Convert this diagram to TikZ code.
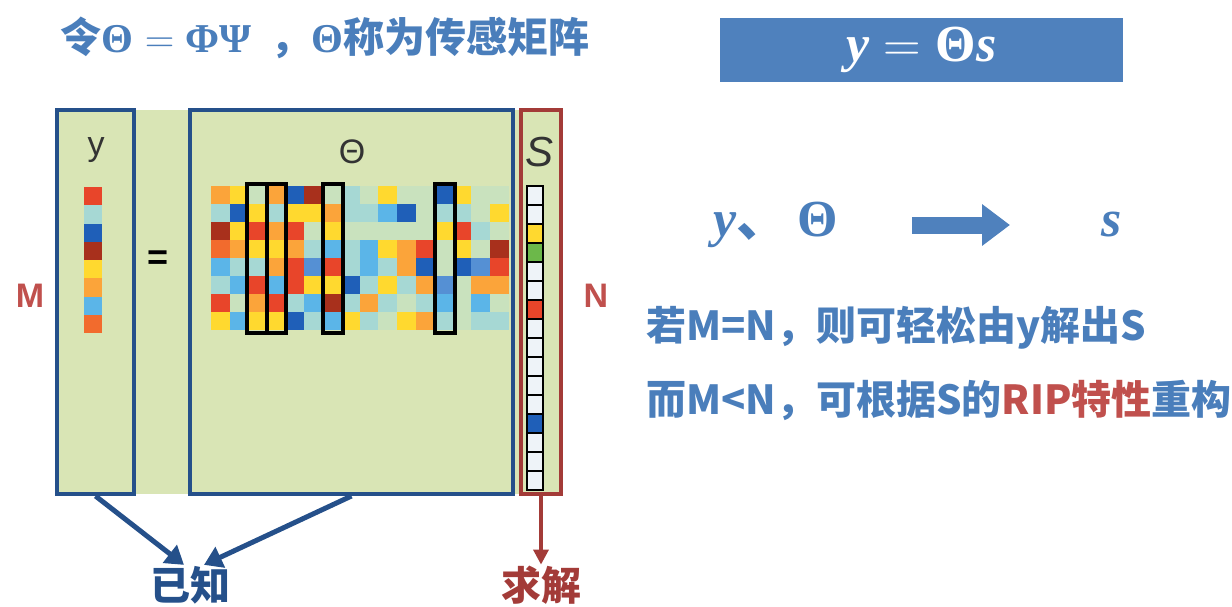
\RequirePackage{fix-cm}
\documentclass[tikz,border=0pt]{standalone}
\usepackage{amsmath,amsbsy}
\usepackage[no-math]{fontspec}
\setmainfont{Liberation Sans}
\newfontfamily\cjk{Noto Sans CJK SC}
\newfontfamily\serif{Liberation Serif}
\usetikzlibrary{arrows.meta, positioning}
\definecolor{txtblue}{HTML}{4A7EBB}
\definecolor{boxblue}{HTML}{4F81BD}
\definecolor{dkblue}{HTML}{25508A}
\definecolor{dkred}{HTML}{A33B38}
\definecolor{lblred}{HTML}{C0504D}
\definecolor{panel}{HTML}{D9E5B5}
% cell colours
\definecolor{cO}{HTML}{FBA43A}
\definecolor{cY}{HTML}{FFD92F}
\definecolor{cR}{HTML}{E8452A}
\definecolor{cF}{HTML}{F26B2D}
\definecolor{cD}{HTML}{A8301C}
\definecolor{cB}{HTML}{1F5FB8}
\definecolor{cM}{HTML}{5590D4}
\definecolor{cL}{HTML}{5BB5E8}
\definecolor{cT}{HTML}{A6D8D4}
\definecolor{cP}{HTML}{C9E2BE}
\definecolor{cW}{HTML}{EEF3F8}
\definecolor{cG}{HTML}{6CB84A}
\newcommand{\bv}[1]{{\serif\bfseries\itshape #1}}
\newcommand{\bg}[1]{{\serif\bfseries #1}}
\tikzset{
  vecbox/.style={rectangle, draw=#1, line width=4pt, inner sep=0pt},
  vecbox/.default=dkblue,
  colbox/.style={draw=black, line width=4pt},
  lbl/.style={inner sep=1pt, text=black!80, font=\fontsize{34}{40}\selectfont},
  dimlbl/.style={inner sep=1pt, text=lblred, font=\bfseries\fontsize{34}{40}\selectfont},
  cjktxt/.style={inner sep=1pt, text=#1, font=\cjk\bfseries\fontsize{40}{46}\selectfont},
  cjktxt/.default=txtblue,
  karr/.style={draw=#1, line width=5pt, -{Triangle[length=18pt, width=22pt]}},
  karr/.default=dkblue,
}

\begin{document}
\begin{tikzpicture}[x=1pt, y=-1pt]
  \useasboundingbox (0,0) rectangle (1232,607);

  % TITLE AND EQUATION
  \node[cjktxt, font=\cjk\bfseries\fontsize{41}{48}\selectfont] (title) at (325,38)
    {令\bg{Θ}\;$=$\;\bg{ΦΨ}\ \ ，\bg{Θ}称为传感矩阵};
  \node[rectangle, fill=boxblue, minimum width=403pt, minimum height=64pt, text=white,
        font=\fontsize{52}{56}\selectfont] (eqbox) at (921.5,50) {\bv{y}\;$=$\;\bg{Θ}\bv{s}};

  % PANEL
  \fill[panel] (57,110) rectangle (561,494);

  % Y VECTOR
  \foreach \c [count=\k from 0] in {R,T,B,D,Y,O,L,F}
    \fill[c\c] (84,{187+\k*18.25}) rectangle ++(18,18.25);

  % THETA MATRIX
  \foreach \row [count=\i from 0] in {
      {O,Y,P,O,B,D,P,T,P,Y,P,P,B,Y,P,P},
      {T,B,Y,T,Y,Y,O,T,T,L,B,P,T,T,P,Y},
      {D,Y,R,O,R,P,Y,P,P,P,P,P,Y,R,T,P},
      {F,O,Y,Y,O,T,L,T,L,Y,O,R,P,Y,P,D},
      {L,T,T,O,R,M,R,T,L,T,O,B,P,B,M,R},
      {T,L,R,L,R,Y,Y,B,T,Y,T,O,M,P,O,O},
      {R,P,O,R,T,L,D,T,O,T,P,T,L,P,L,P},
      {Y,L,Y,Y,B,T,L,Y,T,P,Y,O,T,P,T,T}} {
    \foreach \c [count=\j from 0] in \row
      \fill[c\c] ({211+\j*18.6},{186+\i*18}) rectangle ++(18.6,18);
  }
  \foreach \cx in {247,266.5,323,435}
    \draw[colbox] (\cx,184.5) rectangle ++(19.5,148);

  % S VECTOR
  \foreach \c [count=\k from 0] in {W,W,Y,G,W,W,R,W,W,W,W,W,B,W,W,W}
    \filldraw[fill=c\c, draw=black, line width=2.5pt] (527,{186+\k*19}) rectangle ++(16,19);

  % BOXES
  \node[vecbox, minimum width=77pt, minimum height=384pt] (ybox) at (95.5,302) {};
  \node[vecbox, minimum width=323pt, minimum height=384pt] (thbox) at (351.5,302) {};
  \node[vecbox=dkred, minimum width=40pt, minimum height=384pt] (sbox) at (541,302) {};

  \node[lbl] (ylbl) at (96,150) {y};
  \node[lbl] (thlbl) at (352,152) {Θ};
  \node[lbl, font=\itshape\fontsize{42}{46}\selectfont] (slbl) at (540,152) {S};
  \node[lbl, text=black, font=\bfseries\fontsize{36}{40}\selectfont] (eq) at (158,260) {=};
  \node[dimlbl] (mlbl) at (30,296) {M};
  \node[dimlbl] (nlbl) at (596,296) {N};

  % KNOWN / SOLVE
  \node[cjktxt=dkblue] (known) at (190,585) {已知};
  \node[cjktxt=dkred] (solve) at (541,585) {求解};
  \draw[karr] (ybox.south) -- ([xshift=-6pt]known.north);
  \draw[karr] (thbox.south) -- ([xshift=14pt]known.north);
  \draw[karr=dkred, line width=3.5pt, -{Triangle[length=15pt, width=15pt]}] (sbox.south) -- (solve.north);

  % RIGHT SIDE
  \node[inner sep=1pt, text=txtblue, font=\fontsize{52}{56}\selectfont] (yth) at (776,225)
    {\bv{y}{\cjk\bfseries 、}\,\bg{Θ}};
  \node[inner sep=1pt, text=txtblue, font=\fontsize{52}{56}\selectfont] (snode) at (1112,225)
    {\bv{s}};
  \coordinate (arrA) at (912,225);
  \coordinate (arrB) at (1010,225);
  \draw[draw=boxblue, line width=17pt, -{Triangle[length=28pt, width=40pt]}] (arrA) -- (arrB);

  \node[cjktxt, anchor=west, font=\cjk\bfseries\fontsize{40}{44}\selectfont] (cond1) at (645,328)
    {若M=N，则可轻松由y解出S};
  \node[cjktxt, anchor=west, font=\cjk\bfseries\fontsize{40}{44}\selectfont] (cond2) at (645,400)
    {而M<N，可根据S的\textcolor{lblred}{RIP特性}重构};
\end{tikzpicture}
\end{document}
